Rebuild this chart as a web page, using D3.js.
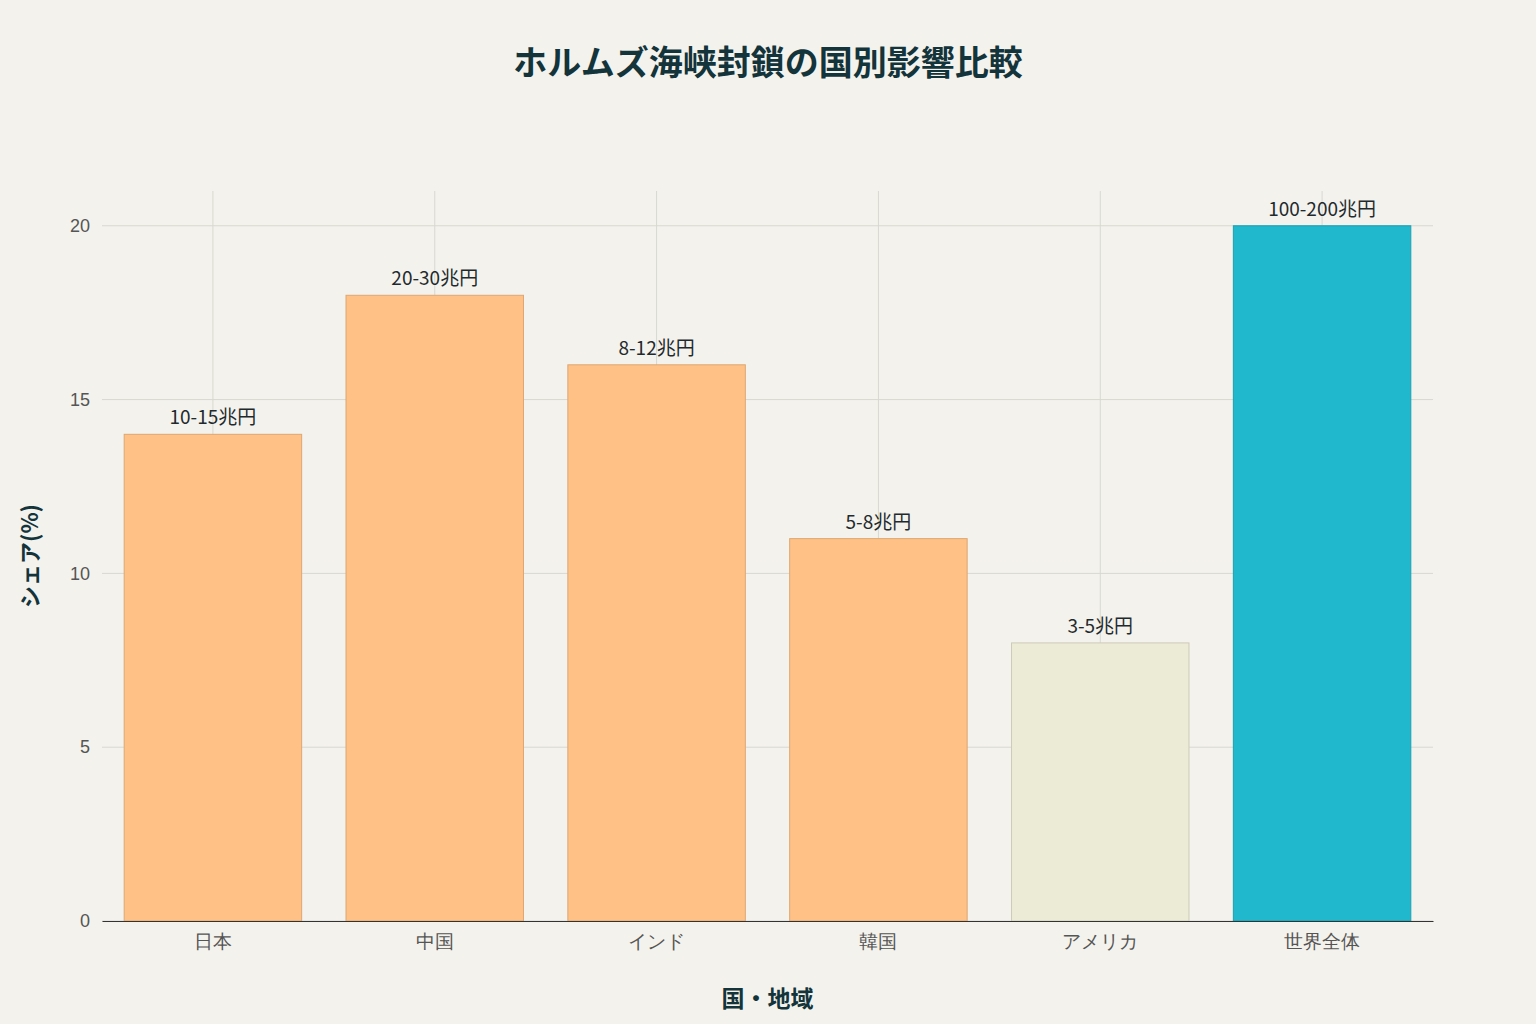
<!DOCTYPE html>
<html><head><meta charset="utf-8">
<script src="https://cdn.jsdelivr.net/npm/d3@7"></script>
<style>
body{margin:0;background:#F3F2EC;font-family:"Noto Sans CJK JP","Noto Sans",sans-serif;}
</style></head><body>
<svg id="chart"></svg>
<script>
/* DATA */
const countries = ["日本", "中国", "インド", "韓国", "アメリカ", "世界全体"];
const shares = [14, 18, 16, 11, 8, 20];
const impactLabels = ["10-15兆円", "20-30兆円", "8-12兆円", "5-8兆円", "3-5兆円", "100-200兆円"];
const barColors = ["#FFC185", "#FFC185", "#FFC185", "#FFC185", "#ECEBD5", "#1FB8CD"];
const yTicks = [0, 5, 10, 15, 20];

const width = 1536, height = 1024,
  margin = { top: 191, bottom: 103, left: 102, right: 103 };

const svg = d3.select("#chart").attr("width", width).attr("height", height);

const xScale = d3.scaleBand().domain(countries)
  .range([margin.left, width - margin.right]).paddingInner(0.2).paddingOuter(0.1);
const yScale = d3.scaleLinear().domain([0, 21]).range([height - margin.bottom, margin.top]);

// grid
svg.append("g").selectAll("line").data(yTicks).join("line")
  .attr("x1", margin.left).attr("x2", width - margin.right)
  .attr("y1", d => yScale(d)).attr("y2", d => yScale(d))
  .attr("stroke", "#D8D8D2");
svg.append("g").selectAll("line").data(countries).join("line")
  .attr("x1", d => xScale(d) + xScale.bandwidth() / 2).attr("x2", d => xScale(d) + xScale.bandwidth() / 2)
  .attr("y1", margin.top).attr("y2", height - margin.bottom)
  .attr("stroke", "#D8D8D2");

// bars
svg.append("g").selectAll("rect").data(countries).join("rect")
  .attr("x", d => xScale(d)).attr("width", xScale.bandwidth())
  .attr("y", (d, i) => yScale(shares[i]))
  .attr("height", (d, i) => yScale(0) - yScale(shares[i]))
  .attr("fill", (d, i) => barColors[i])
  .attr("stroke", (d, i) => d3.color(barColors[i]).darker(0.4))
  .attr("stroke-width", 1);

svg.append("g").selectAll("text").data(countries).join("text")
  .attr("x", d => xScale(d) + xScale.bandwidth() / 2)
  .attr("y", (d, i) => yScale(shares[i]) - 10)
  .attr("text-anchor", "middle").attr("font-size", 19).attr("fill", "#1F2A2E")
  .text((d, i) => impactLabels[i]);

// axes
const xAxis = svg.append("g").attr("transform", `translate(0,${yScale(0)})`)
  .call(d3.axisBottom(xScale).tickSize(0).tickPadding(14));
xAxis.select(".domain").attr("stroke", "#333");
xAxis.selectAll("text").attr("font-size", 19).attr("fill", "#555").attr("font-family", "inherit");

const yAxis = svg.append("g").attr("transform", `translate(${margin.left},0)`)
  .call(d3.axisLeft(yScale).tickValues(yTicks).tickSize(0).tickPadding(12));
yAxis.select(".domain").remove();
yAxis.selectAll("text").attr("font-size", 18).attr("fill", "#555").attr("font-family", "inherit");

// titles
svg.append("text").attr("x", width / 2).attr("y", 75).attr("text-anchor", "middle")
  .attr("font-size", 34).attr("font-weight", "bold").attr("fill", "#13343B")
  .text("ホルムズ海峡封鎖の国別影響比較");
svg.append("text").attr("x", (margin.left + width - margin.right) / 2).attr("y", 1007)
  .attr("text-anchor", "middle").attr("font-size", 23).attr("font-weight", "bold").attr("fill", "#13343B")
  .text("国・地域");
svg.append("text").attr("transform", `translate(38,${(margin.top + height - margin.bottom) / 2}) rotate(-90)`)
  .attr("text-anchor", "middle").attr("font-size", 22).attr("font-weight", "bold").attr("fill", "#13343B")
  .text("シェア(%)");
</script>
</body></html>
